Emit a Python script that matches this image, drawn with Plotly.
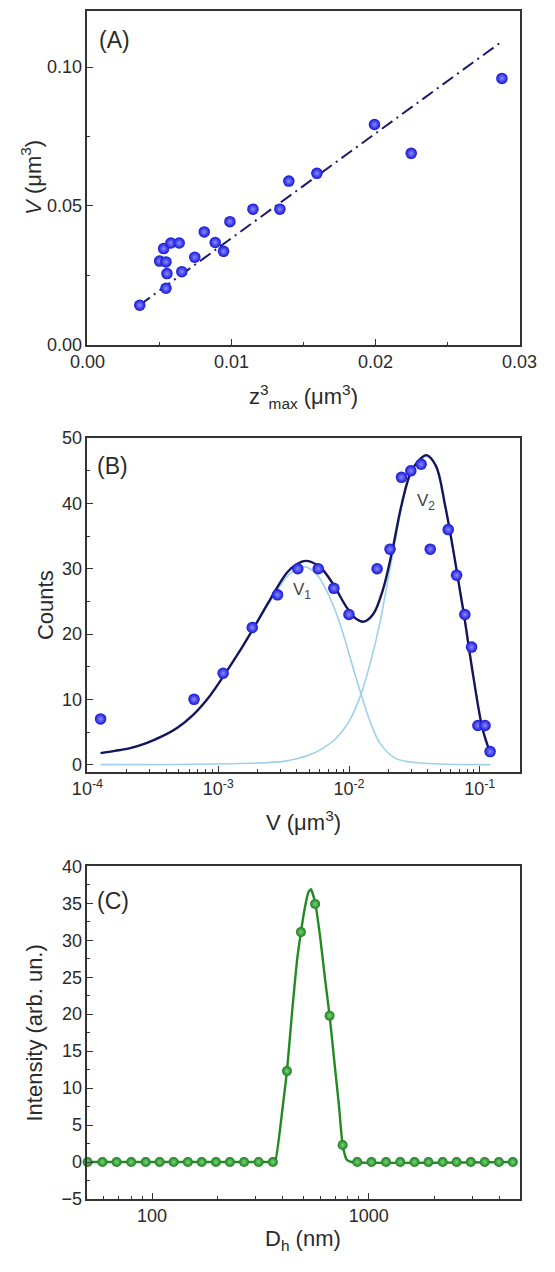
import plotly.graph_objects as go

# ---------------- Panel A data ----------------
a_z3 = [0.00363, 0.00545, 0.00552, 0.00501, 0.00545, 0.00529, 0.00579, 0.00637, 0.00655, 0.00745,
        0.00811, 0.00887, 0.00945, 0.00989, 0.01149, 0.01336, 0.01398, 0.01593, 0.01993, 0.02248, 0.02878]
a_v = [0.0142, 0.0203, 0.0256, 0.0301, 0.0298, 0.0346, 0.0366, 0.0366, 0.0263, 0.0315,
       0.0406, 0.0368, 0.0336, 0.0443, 0.0488, 0.0488, 0.0589, 0.0617, 0.0793, 0.0689, 0.0959]
a_fit_x = [0.0036, 0.0287]
a_fit_y = [0.0142, 0.1089]
a_xticks = [0.00, 0.01, 0.02, 0.03]
a_yticks = [0.00, 0.05, 0.10]

# ---------------- Panel B data ----------------
b_v = [1.26e-4, 6.53e-4, 1.09e-3, 1.82e-3, 2.84e-3, 4.06e-3, 5.82e-3, 7.66e-3, 1.00e-2, 1.64e-2,
       2.06e-2, 2.52e-2, 2.97e-2, 3.56e-2, 4.18e-2, 5.74e-2, 6.65e-2, 7.69e-2, 8.66e-2, 9.68e-2,
       0.1097, 0.120]
b_counts = [7, 10, 14, 21, 26, 30, 30, 27, 23, 30, 33, 44, 45, 46, 33, 36, 29, 23, 18, 6, 6, 2]

b_fit_v = [1.26e-4, 1.62e-4, 2.12e-4, 2.82e-4, 3.67e-4, 4.90e-4, 6.37e-4, 8.38e-4, 1.10e-3, 1.45e-3,
           1.86e-3, 2.51e-3, 3.35e-3, 3.98e-3, 4.72e-3, 6.04e-3, 7.53e-3, 9.38e-3, 1.107e-2, 1.303e-2,
           1.538e-2, 1.811e-2, 2.138e-2, 2.518e-2, 2.972e-2, 3.499e-2, 3.908e-2, 4.613e-2, 5.433e-2, 6.412e-2,
           7.551e-2, 8.913e-2, 0.1050, 0.1205]
b_fit_total = [1.76, 2.1, 2.52, 3.3, 4.28, 5.7, 7.54, 10.2, 13.6, 17.3,
               20.9, 25.4, 29.4, 30.7, 31.2, 30.2, 27.7, 24.4, 22.5, 21.9,
               23.1, 26.7, 32.7, 39.7, 44.8, 46.8, 47.4, 45.8, 39.7, 31.7,
               23.1, 13.6, 5.5, 1.76]

b_v1_v = [1.26e-4, 1.62e-4, 2.12e-4, 2.82e-4, 3.67e-4, 4.90e-4, 6.37e-4, 8.38e-4, 1.10e-3, 1.45e-3,
          1.86e-3, 2.51e-3, 3.35e-3, 3.98e-3, 4.59e-3, 5.73e-3, 7.53e-3, 8.87e-3, 1.047e-2, 1.236e-2,
          1.456e-2, 1.722e-2, 2.254e-2, 2.972e-2, 5.0e-2, 0.1205]
b_v1 = [1.76, 2.1, 2.52, 3.3, 4.28, 5.7, 7.54, 10.2, 13.6, 17.3,
        20.9, 25.1, 28.8, 29.9, 30.3, 29.0, 24.5, 20.5, 15.6, 10.8,
        6.5, 3.3, 1.0, 0.4, 0.1, 0.0]

b_v2_v = [1.26e-4, 6.37e-4, 2.0e-3, 3.16e-3, 3.98e-3, 5.01e-3, 6.31e-3, 7.94e-3, 1.0e-2, 1.236e-2,
          1.456e-2, 1.718e-2, 2.023e-2, 2.291e-2, 2.518e-2, 2.972e-2, 3.499e-2, 3.908e-2, 4.613e-2, 5.433e-2,
          6.412e-2, 7.551e-2, 8.913e-2, 0.1050, 0.1205]
b_v2 = [0.0, 0.05, 0.25, 0.5, 0.9, 1.5, 2.5, 4.0, 6.6, 10.8,
        15.6, 21.6, 29.2, 35.0, 39.4, 44.6, 46.6, 47.2, 45.7, 39.7,
        31.7, 23.1, 13.6, 5.5, 1.76]

b_xticks = [1e-4, 1e-3, 1e-2, 1e-1]
b_xticktext = ["10<sup>-4</sup>", "10<sup>-3</sup>", "10<sup>-2</sup>", "10<sup>-1</sup>"]
b_yticks = [0, 10, 20, 30, 40, 50]

# ---------------- Panel C data ----------------
c_dh = [50.4, 59.0, 68.6, 80.1, 93.5, 108.4, 125.7, 146.2, 169.4, 197.1,
        228.5, 265.7, 310.1, 360.8, 419, 486, 565, 659, 757, 884,
        1028, 1200, 1396, 1624, 1883, 2190, 2539, 2953, 3423, 3981, 4615]
c_int = [0, 0, 0, 0, 0, 0, 0, 0, 0, 0,
         0, 0, 0, 0, 12.3, 31.1, 34.9, 19.8, 2.3, 0,
         0, 0, 0, 0, 0, 0, 0, 0, 0, 0, 0]

c_fit_dh = [50.4, 360.8, 369, 401, 419, 443, 466, 486, 506, 526,
            541, 565, 597, 627, 659, 692, 728, 757, 791, 832, 4615]
c_fit_int = [0, 0, 0.0, 7.6, 12.3, 20.5, 27.2, 31.1, 34.3, 36.5,
             36.9, 35.1, 30.3, 24.9, 19.8, 13.8, 7.6, 2.3, 0.3, 0, 0]

c_xticks = [100, 1000]
c_xticktext = ["100", "1000"]
c_yticks = [-5, 0, 5, 10, 15, 20, 25, 30, 35, 40]

# ---------------- styling ----------------
W, H = 555, 1272
FONT = "Liberation Sans, Arial, sans-serif"
TXT = "#2a2a2a"
FRAME = "#333333"


def px_x(p):
    return p / W


def px_y(p):
    return 1 - p / H


XDOM = [px_x(74.3), px_x(536.3)]
YDOM_A = [px_y(340), px_y(1.5)]
YDOM_B = [px_y(774), px_y(435)]
YDOM_C = [px_y(1208), px_y(870)]


def base_axis(**kw):
    d = dict(showline=True, linecolor=FRAME, linewidth=1.5, mirror=True,
             ticks="inside", ticklen=6, tickwidth=1.4, tickcolor=FRAME,
             showgrid=False, zeroline=False,
             tickfont=dict(family=FONT, size=18, color=TXT))
    d.update(kw)
    return d


def log_minor(decades, limit_lo, limit_hi):
    vals = []
    for d in decades:
        for m in range(2, 10):
            v = m * d
            if limit_lo < v < limit_hi:
                vals.append(v)
    return vals


blue_marker = dict(size=11.5, color="#1414d8", line=dict(width=0),
                   gradient=dict(type="radial", color="#8a8aff"))
green_marker = dict(size=10, color="#17801a", line=dict(width=0),
                    gradient=dict(type="radial", color="#7fd27f"))

fig = go.Figure()

# Panel A
fig.add_trace(go.Scatter(x=a_fit_x, y=a_fit_y, mode="lines",
                         line=dict(color="#1c1c6a", width=2, dash="13px,5px,2px,5px"),
                         xaxis="x", yaxis="y", showlegend=False))
fig.add_trace(go.Scatter(x=a_z3, y=a_v, mode="markers", marker=blue_marker,
                         xaxis="x", yaxis="y", showlegend=False))

# Panel B
light = dict(color="#9fd0ea", width=1.6, shape="spline", smoothing=1.0)
fig.add_trace(go.Scatter(x=b_v1_v, y=b_v1, mode="lines", line=light,
                         xaxis="x2", yaxis="y2", showlegend=False))
fig.add_trace(go.Scatter(x=b_v2_v, y=b_v2, mode="lines", line=light,
                         xaxis="x2", yaxis="y2", showlegend=False))
fig.add_trace(go.Scatter(x=b_fit_v, y=b_fit_total, mode="lines",
                         line=dict(color="#15155a", width=2.4, shape="spline", smoothing=1.0),
                         xaxis="x2", yaxis="y2", showlegend=False))
fig.add_trace(go.Scatter(x=b_v, y=b_counts, mode="markers", marker=blue_marker,
                         xaxis="x2", yaxis="y2", showlegend=False))

# Panel C
fig.add_trace(go.Scatter(x=c_fit_dh, y=c_fit_int, mode="lines",
                         line=dict(color="#238a23", width=2.4, shape="spline", smoothing=0.5),
                         xaxis="x3", yaxis="y3", showlegend=False))
fig.add_trace(go.Scatter(x=c_dh, y=c_int, mode="markers", marker=green_marker,
                         xaxis="x3", yaxis="y3", showlegend=False, cliponaxis=False))

b_minor = log_minor([1e-4, 1e-3, 1e-2, 1e-1], 1e-4, 0.2)
c_minor = log_minor([10, 100, 1000], 50, 5000)

fig.update_layout(
    width=W, height=H,
    margin=dict(l=0, r=0, t=0, b=0),
    paper_bgcolor="white", plot_bgcolor="white",
    font=dict(family=FONT, color=TXT),
    xaxis=base_axis(domain=XDOM, anchor="y", range=[0, 0.03], tickvals=a_xticks,
                    tickformat=".2f",
                    minor=dict(ticks="inside", ticklen=3, tickcolor=FRAME, dtick=0.005, tick0=0)),
    yaxis=base_axis(domain=YDOM_A, anchor="x", range=[0, 0.12], tickvals=a_yticks,
                    tickformat=".2f",
                    minor=dict(ticks="inside", ticklen=3, tickcolor=FRAME, dtick=0.025, tick0=0)),
    xaxis2=base_axis(domain=XDOM, anchor="y2", type="log", range=[-4, -0.696],
                     tickvals=b_xticks, ticktext=b_xticktext,
                     minor=dict(ticks="inside", ticklen=3, tickcolor=FRAME, tickmode="array",
                                tickvals=b_minor)),
    yaxis2=base_axis(domain=YDOM_B, anchor="x2", range=[-1.1, 50], tickvals=b_yticks,
                     minor=dict(ticks="inside", ticklen=3, tickcolor=FRAME, dtick=5, tick0=0)),
    xaxis3=base_axis(domain=XDOM, anchor="y3", type="log", range=[1.702, 3.695],
                     tickvals=c_xticks, ticktext=c_xticktext,
                     minor=dict(ticks="inside", ticklen=3, tickcolor=FRAME, tickmode="array",
                                tickvals=c_minor)),
    yaxis3=base_axis(domain=YDOM_C, anchor="x3", range=[-5, 40], tickvals=c_yticks,
                     minor=dict(ticks="inside", ticklen=3, tickcolor=FRAME, dtick=2.5, tick0=0)),
)

ann_font = dict(family=FONT, size=22, color=TXT)
annotations = [
    # panel labels
    dict(x=px_x(103), y=px_y(30), text="(A)", font=dict(family=FONT, size=23, color=TXT)),
    dict(x=px_x(101), y=px_y(463), text="(B)", font=dict(family=FONT, size=23, color=TXT)),
    dict(x=px_x(102), y=px_y(905), text="(C)", font=dict(family=FONT, size=23, color=TXT)),
    # axis titles
    dict(x=px_x(305.3), y=px_y(393), text="z<sup>3</sup><sub>max</sub> (μm<sup>3</sup>)", font=ann_font),
    dict(x=px_x(14), y=px_y(170.5), text="<i>V</i> (μm<sup>3</sup>)", font=ann_font, textangle=-90),
    dict(x=px_x(305.3), y=px_y(824), text="V (μm<sup>3</sup>)", font=ann_font),
    dict(x=px_x(30), y=px_y(604.5), text="Counts", font=ann_font, textangle=-90),
    dict(x=px_x(305.3), y=px_y(1250), text="D<sub>h</sub> (nm)", font=ann_font),
    dict(x=px_x(18), y=px_y(1039), text="Intensity (arb. un.)", font=ann_font, textangle=-90),
]
for a in annotations:
    a.update(xref="paper", yref="paper", showarrow=False, xanchor="center", yanchor="middle")

# peak labels in panel B (data coordinates)
annotations.append(dict(x=-2.362, y=26.6, xref="x2", yref="y2", text="V<sub>1</sub>", showarrow=False,
                        font=dict(family=FONT, size=17, color="#444")))
annotations.append(dict(x=-1.408, y=40.2, xref="x2", yref="y2", text="V<sub>2</sub>", showarrow=False,
                        font=dict(family=FONT, size=17, color="#444")))
fig.update_layout(annotations=annotations)

fig.write_html("out.html")
